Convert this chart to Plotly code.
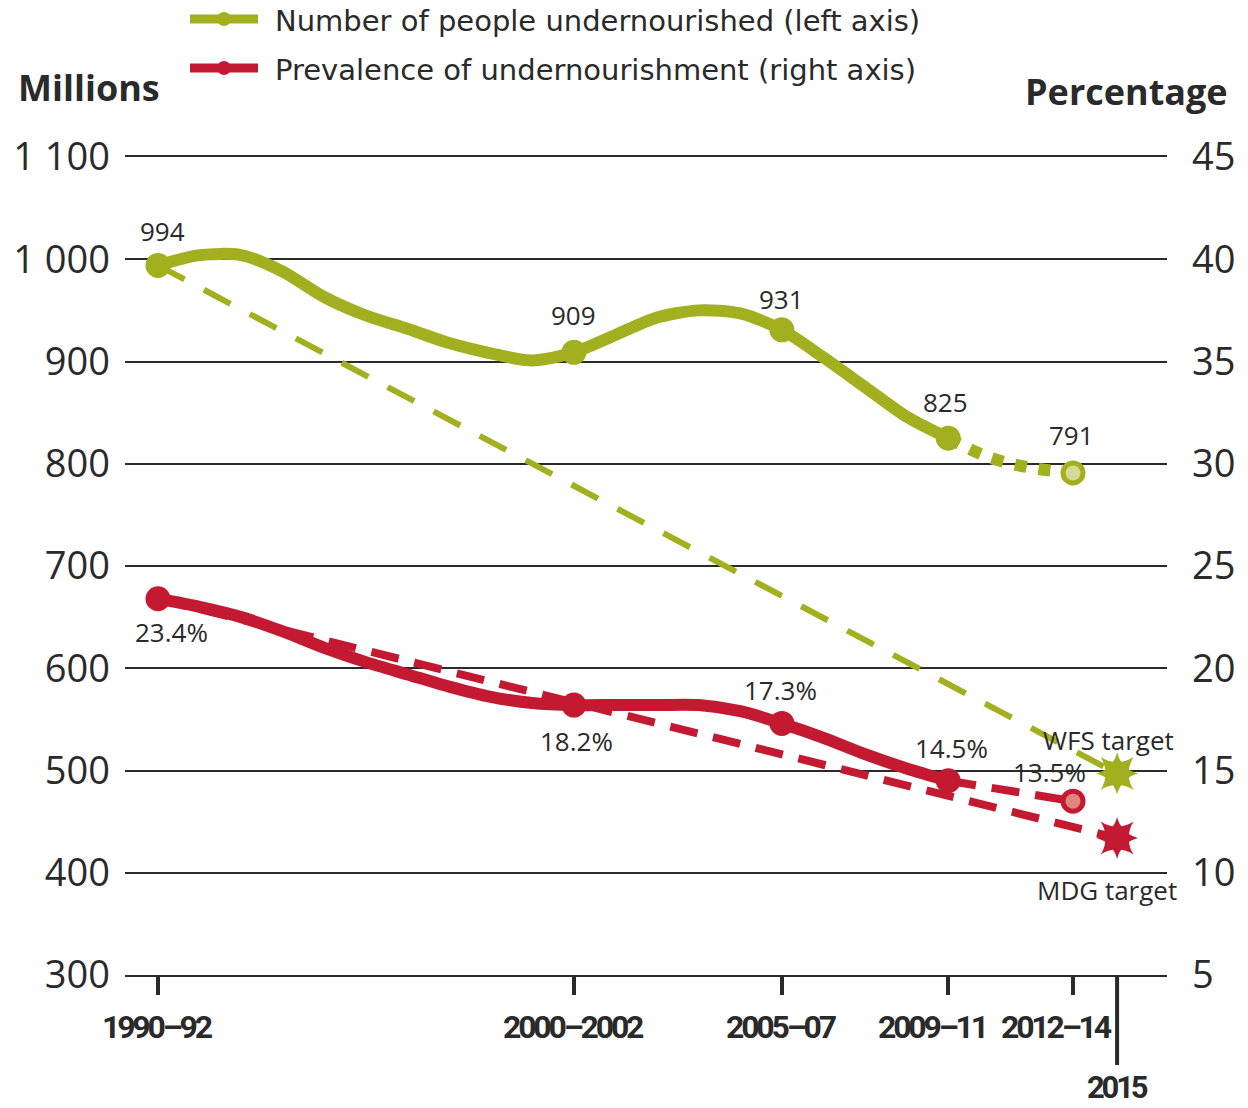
import plotly.graph_objects as go

# ---------------- data ----------------
years_num = [1991, 1992, 1993, 1994, 1995, 1996, 1997, 1998, 1999, 2000,
             2001, 2002, 2003, 2004, 2005, 2006, 2007, 2008, 2009, 2010]
num_undernourished = [994, 1004, 1004, 988, 963, 945, 932, 918, 908, 901,
                      909, 926, 943, 950, 947, 931, 904, 875, 846, 825]
prev_undernourished = [23.4, 23.0, 22.5, 21.8, 21.0, 20.3, 19.7, 19.1, 18.6, 18.3,
                       18.2, 18.2, 18.2, 18.2, 17.9, 17.3, 16.6, 15.8, 15.1, 14.5]

proj_years = [2010, 2011, 2012, 2013]
proj_number = [825, 806, 796, 791]
proj_prev = [14.5, 13.5]
proj_prev_years = [2010, 2013]

period_x = [1991, 2001, 2006, 2010, 2013]
period_labels = ["1990–92", "2000–2002", "2005–07", "2009–11", "2012–14"]
period_number = [994, 909, 931, 825, 791]
period_prev = [23.4, 18.2, 17.3, 14.5, 13.5]

target_x = 2014.06          # position of the "2015" target mark on the axis
target_label = "2015"
wfs_target = 497            # millions
mdg_target = 11.7           # percent

left_ticks = [300, 400, 500, 600, 700, 800, 900, 1000, 1100]
left_tick_text = ["300", "400", "500", "600", "700", "800", "900", "1 000", "1 100"]
right_ticks = [5, 10, 15, 20, 25, 30, 35, 40, 45]

# ---------------- styles ----------------
GREEN = "#a2b01f"
GREEN_LIGHT = "#d3da98"
RED = "#c31a32"
RED_LIGHT = "#e3857f"
TXT = "#2a2a2a"
FONT = "Open Sans, Noto Sans, sans-serif"
LEGFONT = "DejaVu Sans, Open Sans, sans-serif"
NARROW = "Roboto, Liberation Sans, sans-serif"

def narrow(t):
    return f'<span style="letter-spacing:-3.2px"><b>{t}</b></span>'

fig = go.Figure()

# target dashed lines
fig.add_trace(go.Scatter(x=[period_x[0], target_x], y=[period_number[0], wfs_target],
                         mode="lines", line=dict(color=GREEN, width=6, dash="30px,22px"),
                         yaxis="y", hoverinfo="skip", showlegend=False))
fig.add_trace(go.Scatter(x=[period_x[0], target_x], y=[period_prev[0], mdg_target],
                         mode="lines", line=dict(color=RED, width=8, dash="28px,16px"),
                         yaxis="y2", hoverinfo="skip", showlegend=False))

# projections
fig.add_trace(go.Scatter(x=proj_years, y=proj_number, mode="lines",
                         line=dict(color=GREEN, width=12, dash="12px,12px", shape="spline"),
                         yaxis="y", showlegend=False))
fig.add_trace(go.Scatter(x=proj_prev_years, y=proj_prev, mode="lines",
                         line=dict(color=RED, width=8, dash="28px,16px"),
                         yaxis="y2", showlegend=False))

# solid series
fig.add_trace(go.Scatter(x=years_num, y=num_undernourished, mode="lines",
                         line=dict(color=GREEN, width=12, shape="spline", smoothing=0.8),
                         yaxis="y", showlegend=False))
fig.add_trace(go.Scatter(x=years_num, y=prev_undernourished, mode="lines",
                         line=dict(color=RED, width=12, shape="spline", smoothing=0.8),
                         yaxis="y2", showlegend=False))

# markers
fill_g = [GREEN] * (len(period_x) - 1) + [GREEN_LIGHT]
fill_r = [RED] * (len(period_x) - 1) + [RED_LIGHT]
fig.add_trace(go.Scatter(x=period_x, y=period_number, mode="markers",
                         marker=dict(size=20, color=fill_g, line=dict(color=GREEN, width=5)),
                         yaxis="y", showlegend=False))
fig.add_trace(go.Scatter(x=period_x, y=period_prev, mode="markers",
                         marker=dict(size=20, color=fill_r, line=dict(color=RED, width=5)),
                         yaxis="y2", showlegend=False))

# target stars
for sym in ["star-square", "star-diamond"]:
    fig.add_trace(go.Scatter(x=[target_x], y=[wfs_target], mode="markers",
                             marker=dict(symbol=sym, size=30, color=GREEN, line=dict(width=0)),
                             yaxis="y", showlegend=False))
    fig.add_trace(go.Scatter(x=[target_x], y=[mdg_target], mode="markers",
                             marker=dict(symbol=sym, size=30, color=RED, line=dict(width=0)),
                             yaxis="y2", showlegend=False))

# data labels
num_shift = [(5, 34), (0, 37), (0, 31), (-3, 36), (-2, 38)]
prev_shift = [(14, -33), (3, -36), (-1, 33), (3, 33), (-24, 29)]
for xv, v, (dx, dy) in zip(period_x, period_number, num_shift):
    fig.add_annotation(x=xv, y=v, xref="x", yref="y", text=f"{v}", showarrow=False,
                       xshift=dx, yshift=dy, font=dict(family=FONT, size=26, color=TXT))
for xv, v, (dx, dy) in zip(period_x, period_prev, prev_shift):
    fig.add_annotation(x=xv, y=v, xref="x", yref="y2", text=f"{v}%", showarrow=False,
                       xshift=dx, yshift=dy, font=dict(family=FONT, size=26, color=TXT))
fig.add_annotation(x=target_x, y=wfs_target, xref="x", yref="y", text="WFS target",
                   showarrow=False, xshift=-9, yshift=34, font=dict(family=FONT, size=26, color=TXT))
fig.add_annotation(x=target_x, y=mdg_target, xref="x", yref="y2", text="MDG target",
                   showarrow=False, xshift=-10, yshift=-52, font=dict(family=FONT, size=26, color=TXT))

# x period labels (placed at the axis tick positions)
label_xshift = [0, 0, 0, -16, -17]
for xv, lab, dx in zip(period_x, period_labels, label_xshift):
    fig.add_annotation(x=xv, xref="x", yref="paper", y=-0.0635, text=narrow(lab),
                       showarrow=False, yanchor="middle", xshift=dx,
                       font=dict(family=NARROW, size=32, color=TXT))

# 2015 vertical mark and label
fig.add_shape(type="line", xref="x", yref="paper", x0=target_x, x1=target_x, y0=0, y1=-0.11,
              line=dict(color=TXT, width=4))
fig.add_annotation(x=target_x, xref="x", yref="paper", y=-0.137, text=narrow(target_label),
                   showarrow=False, yanchor="middle", font=dict(family=NARROW, size=31, color=TXT))

# axis titles
fig.add_annotation(x=-0.105, y=1.085, xref="paper", yref="paper", text="<b>Millions</b>",
                   showarrow=False, xanchor="left", yanchor="middle",
                   font=dict(family=FONT, size=36, color=TXT))
fig.add_annotation(x=1.06, y=1.08, xref="paper", yref="paper", text="<b>Percentage</b>",
                   showarrow=False, xanchor="right", yanchor="middle",
                   font=dict(family=FONT, size=36, color=TXT))

# manual legend (paper coordinates derived from page pixels)
PW, PH = 1042.0, 818.0
def px_x(p):
    return (p - 125) / PW
def px_y(p):
    return (975 - p) / PH
legend_items = [("Number of people undernourished (left axis)", GREEN, 19),
                ("Prevalence of undernourishment (right axis)", RED, 68)]
for text, col, yy in legend_items:
    fig.add_shape(type="line", xref="paper", yref="paper", x0=px_x(190), x1=px_x(258),
                  y0=px_y(yy), y1=px_y(yy), line=dict(color=col, width=9))
    fig.add_shape(type="circle", xref="paper", yref="paper",
                  x0=px_x(217), x1=px_x(231), y0=px_y(yy - 7), y1=px_y(yy + 7),
                  fillcolor=col, line=dict(color=col, width=0))
    fig.add_annotation(x=px_x(273), y=px_y(yy + 2), xref="paper", yref="paper", text=text,
                       showarrow=False, xanchor="left", yanchor="middle",
                       font=dict(family=LEGFONT, size=29, color=TXT))

fig.update_layout(
    width=1248, height=1108,
    margin=dict(l=125, r=81, t=157, b=133, pad=0, autoexpand=False),
    paper_bgcolor="white", plot_bgcolor="white",
    showlegend=False,
    xaxis=dict(range=[1990.207, 2015.26], showgrid=False, zeroline=False, automargin=False,
               showline=True, mirror=True, linecolor=TXT, linewidth=1.5,
               tickmode="array", tickvals=period_x, showticklabels=False,
               ticks="outside", ticklen=18, tickwidth=4, tickcolor=TXT),
    yaxis=dict(range=[300, 1100], tickmode="array", tickvals=left_ticks, automargin=False,
               ticktext=left_tick_text, showgrid=True, gridcolor=TXT, gridwidth=1.5,
               zeroline=False, showline=False, ticks="", ticklabelstandoff=14,
               tickfont=dict(family=FONT, size=38, color=TXT)),
    yaxis2=dict(range=[5, 45], overlaying="y", side="right", tickmode="array", automargin=False,
                tickvals=right_ticks, showgrid=False, zeroline=False, showline=False,
                ticks="", ticklabelstandoff=24,
                tickfont=dict(family=FONT, size=38, color=TXT)),
)

fig.write_html("out.html", config={"displayModeBar": False},
               post_script="document.body.style.margin='0';document.body.style.overflow='hidden';")
